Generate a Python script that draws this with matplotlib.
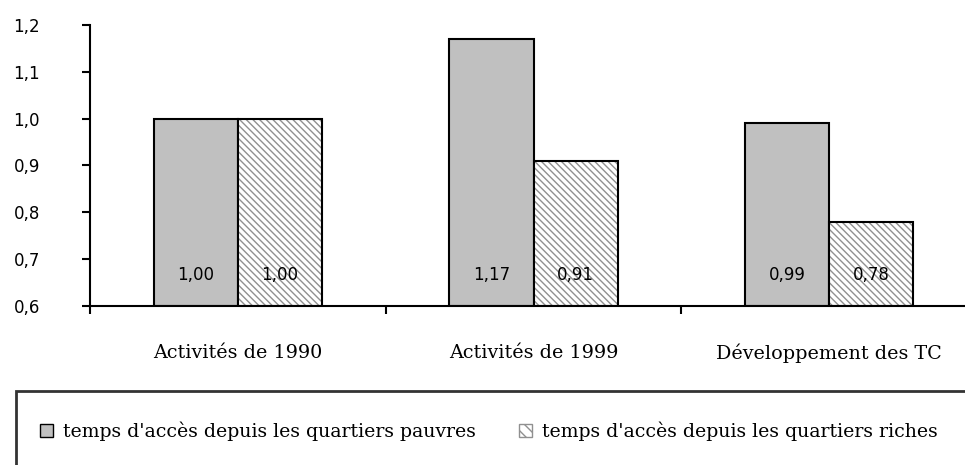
import matplotlib.pyplot as plt
import numpy as np
from matplotlib import patches as mpatches

categories = ['Activités de 1990', 'Activités de 1999', 'Développement des TC']
pauvres = [1.00, 1.17, 0.99]
riches = [1.00, 0.91, 0.78]
labels = ["temps d'accès depuis les quartiers pauvres",
          "temps d'accès depuis les quartiers riches"]
yticks = [0.6, 0.7, 0.8, 0.9, 1.0, 1.1, 1.2]

serif = ['DejaVu Serif']
sans = ['DejaVu Sans']

fig = plt.figure(figsize=(9.65, 4.65), dpi=100)
# axis runs past the right edge of the figure, like the original
ax = fig.add_axes([90 / 965, 1 - 306 / 465, 887 / 965, 281 / 465])

x = np.arange(len(categories))
w = 0.285
ax.bar(x - w / 2, np.array(pauvres) - 0.6, w, bottom=0.6, color='#c0c0c0',
       edgecolor='black', linewidth=1.5)
# hatched bars: hatch drawn in grey, outline drawn on top in black
ax.bar(x + w / 2, np.array(riches) - 0.6, w, bottom=0.6, color='white',
       edgecolor='#909090', hatch='\\\\\\\\\\', linewidth=0)
ax.bar(x + w / 2, np.array(riches) - 0.6, w, bottom=0.6, color='none',
       edgecolor='black', linewidth=1.5)

for i in range(len(categories)):
    for xx, v in [(x[i] - w / 2, pauvres[i]), (x[i] + w / 2, riches[i])]:
        ax.annotate(('%.2f' % v).replace('.', ','), (xx, 0.6),
                    xytext=(0, 22), textcoords='offset points',
                    ha='center', va='center', fontsize=12, family=sans)

ax.set_xlim(-0.5, len(categories) - 0.5)
ax.set_ylim(0.6, 1.2)
ax.set_yticks(yticks)
ax.set_yticklabels([('%.1f' % t).replace('.', ',') for t in yticks],
                   fontsize=12, family=sans)
ax.set_xticks(np.arange(len(categories) + 1) - 0.5, minor=False)
ax.set_xticklabels([])
ax.set_xticks(x, minor=True)
ax.set_xticklabels(categories, minor=True, fontsize=13.8, family=serif)
ax.tick_params(axis='x', which='minor', length=0, pad=27)
ax.tick_params(axis='x', which='major', length=6, width=1.5, direction='out')
ax.tick_params(axis='y', length=6, width=1.5, direction='out', pad=49)
for lab in ax.get_yticklabels():
    lab.set_horizontalalignment('left')
ax.spines['top'].set_visible(False)
ax.spines['right'].set_visible(False)
ax.spines['left'].set_linewidth(1.5)
ax.spines['bottom'].set_linewidth(1.5)

# legend box running past the figure edges
box = mpatches.Rectangle((16 / 965, -0.1), 1.1, 1 - 391 / 465 + 0.1,
                         transform=fig.transFigure, facecolor='none',
                         edgecolor='#333333', linewidth=2, clip_on=False)
fig.patches.append(box)
handles = [mpatches.Patch(facecolor='#c0c0c0', edgecolor='black', label=labels[0]),
           mpatches.Patch(facecolor='white', edgecolor='#909090', hatch='\\\\\\', label=labels[1])]
fig.legend(handles=handles, loc='center left', bbox_to_anchor=(40 / 965, 1 - 431 / 465),
           ncol=2, frameon=False, handlelength=0.7, handleheight=0.7, borderpad=0,
           borderaxespad=0, handletextpad=0.5, columnspacing=2.3,
           prop={'family': serif, 'size': 13.6})

fig.savefig('out.png', dpi=100)
